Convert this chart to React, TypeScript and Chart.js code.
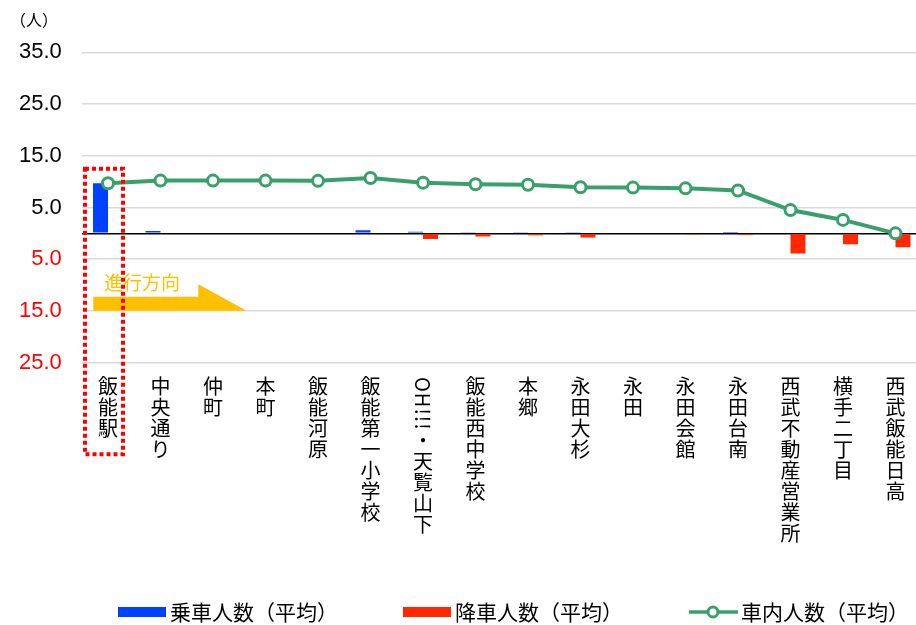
import React, { useEffect, useRef } from "react";
import { Chart, registerables } from "chart.js";

Chart.register(...registerables);

const categories = [
  "飯能駅", "中央通り", "仲町", "本町", "飯能河原", "飯能第一小学校", "OH!!!・天覧山下", "飯能西中学校",
  "本郷", "永田大杉", "永田", "永田会館", "永田台南", "西武不動産営業所", "横手二丁目", "西武飯能日高",
];
const boarding = [9.7, 0.45, 0, 0, 0, 0.6, 0.3, 0.1, 0.1, 0.1, 0, 0, 0.05, 0, 0, 0];
const alighting = [0, 0, 0, 0, 0, 0, -1.1, -0.6, -0.35, -0.8, 0, -0.15, -0.3, -3.9, -2.1, -2.7];
const onboard = [9.7, 10.2, 10.2, 10.2, 10.15, 10.7, 9.8, 9.5, 9.4, 8.9, 8.85, 8.7, 8.3, 4.5, 2.6, 0.0];
const yTicks = [-25, -15, -5, 0, 5, 15, 25, 35];
const seriesNames = ["乗車人数（平均）", "降車人数（平均）", "車内人数（平均）"];

const BLUE = "#0041FF";
const RED = "#FF2800";
const GREEN = "#3AA06B";
const CJK = '"Noto Sans CJK JP", "Noto Sans", sans-serif';

const overlayPlugin = {
  id: "overlay",
  afterDraw(chart: any) {
    const ctx = chart.ctx as CanvasRenderingContext2D;
    const xs = chart.scales.x;
    ctx.save();

    // unit label
    ctx.fillStyle = "#000";
    ctx.font = `16px ${CJK}`;
    ctx.textAlign = "left";
    ctx.textBaseline = "middle";
    ctx.fillText("（人）", 10, 20);

    // vertical category labels
    ctx.font = `20px ${CJK}`;
    categories.forEach((lab, i) => {
      const cx = xs.getPixelForValue(i);
      let y = 376;
      for (const ch of Array.from(lab)) {
        if (/[\x21-\x7E]/.test(ch)) {
          const w = ctx.measureText(ch).width;
          ctx.save();
          ctx.translate(cx, y + w / 2 + 1);
          ctx.rotate(Math.PI / 2);
          ctx.textAlign = "center";
          ctx.textBaseline = "middle";
          ctx.fillText(ch, 0, 0);
          ctx.restore();
          y += w + 1;
        } else {
          ctx.textAlign = "center";
          ctx.textBaseline = "middle";
          ctx.fillText(ch, cx, y + 10.5);
          y += 21;
        }
      }
    });

    // direction arrow
    ctx.fillStyle = "#FFC000";
    ctx.beginPath();
    ctx.moveTo(93.3, 296.7);
    ctx.lineTo(198.3, 296.7);
    ctx.lineTo(198.3, 284.3);
    ctx.lineTo(246.7, 310.7);
    ctx.lineTo(93.3, 310.7);
    ctx.closePath();
    ctx.fill();
    ctx.font = `19px ${CJK}`;
    ctx.textAlign = "left";
    ctx.textBaseline = "middle";
    ctx.fillText("進行方向", 104, 283);

    // dotted highlight box
    ctx.strokeStyle = "#FF0000";
    ctx.lineWidth = 4;
    ctx.setLineDash([4, 3]);
    ctx.strokeRect(85, 168.7, 38, 285.5);
    ctx.setLineDash([]);

    // legend
    const ly = 612;
    ctx.font = `21px ${CJK}`;
    ctx.textAlign = "left";
    ctx.textBaseline = "middle";
    ctx.fillStyle = BLUE;
    ctx.fillRect(118, ly - 5, 48, 10);
    ctx.fillStyle = "#000";
    ctx.fillText(seriesNames[0], 170, ly);
    ctx.fillStyle = RED;
    ctx.fillRect(403, ly - 5, 48, 10);
    ctx.fillStyle = "#000";
    ctx.fillText(seriesNames[1], 455, ly);
    ctx.strokeStyle = GREEN;
    ctx.lineWidth = 3.5;
    ctx.beginPath();
    ctx.moveTo(689, ly);
    ctx.lineTo(738, ly);
    ctx.stroke();
    ctx.beginPath();
    ctx.arc(713, ly, 5, 0, Math.PI * 2);
    ctx.fillStyle = "#fff";
    ctx.fill();
    ctx.lineWidth = 3;
    ctx.stroke();
    ctx.fillStyle = "#000";
    ctx.fillText(seriesNames[2], 741, ly);

    ctx.restore();
  },
};

export default function App() {
  const ref = useRef<HTMLCanvasElement | null>(null);
  useEffect(() => {
    if (!ref.current) return;
    const chart = new Chart(ref.current, {
      type: "bar",
      data: {
        labels: categories,
        datasets: [
          {
            type: "line",
            label: seriesNames[2],
            data: onboard,
            borderColor: GREEN,
            borderWidth: 4,
            pointRadius: 5.5,
            pointBorderWidth: 3,
            pointBackgroundColor: "#fff",
            pointBorderColor: GREEN,
            tension: 0,
            order: 0,
          } as any,
          {
            type: "bar",
            label: seriesNames[0],
            data: boarding,
            backgroundColor: BLUE,
            categoryPercentage: 0.571,
            barPercentage: 1,
            order: 1,
          },
          {
            type: "bar",
            label: seriesNames[1],
            data: alighting,
            backgroundColor: RED,
            categoryPercentage: 0.571,
            barPercentage: 1,
            order: 1,
          },
        ],
      },
      options: {
        responsive: false,
        animation: false,
        devicePixelRatio: 1,
        layout: { autoPadding: false, padding: { top: 52.3, right: 8.25, left: 0, bottom: 0 } },
        plugins: { legend: { display: false }, tooltip: { enabled: false } },
        scales: {
          x: {
            ticks: { display: false },
            grid: { display: false },
            border: { display: false },
            afterFit: (s: any) => { s.height = 262.3; },
          },
          y: {
            min: -25,
            max: 35,
            afterBuildTicks: (s: any) => { s.ticks = yTicks.map((v) => ({ value: v })); },
            afterFit: (s: any) => { s.width = 81.75; },
            grid: {
              drawTicks: false,
              color: (c: any) => (c.tick && c.tick.value === 0 ? "#000" : "#d9d9d9"),
              lineWidth: 1.5,
            },
            border: { display: false },
            ticks: {
              padding: 20,
              color: (c: any) => (c.tick && c.tick.value < 0 ? "#FF0000" : "#000"),
              font: { family: '"Liberation Sans", Arial, sans-serif', size: 22 },
              callback: (v: any) => (Number(v) === 0 ? "" : Math.abs(Number(v)).toFixed(1)),
            },
          },
        },
      },
      plugins: [overlayPlugin],
    });
    return () => chart.destroy();
  }, []);
  return (
    <div style={{ position: "fixed", left: 0, top: 0, width: 916, height: 625, overflow: "hidden", background: "#fff" }}>
      <canvas ref={ref} width={930} height={625} style={{ width: 930, height: 625, display: "block" }} />
    </div>
  );
}
